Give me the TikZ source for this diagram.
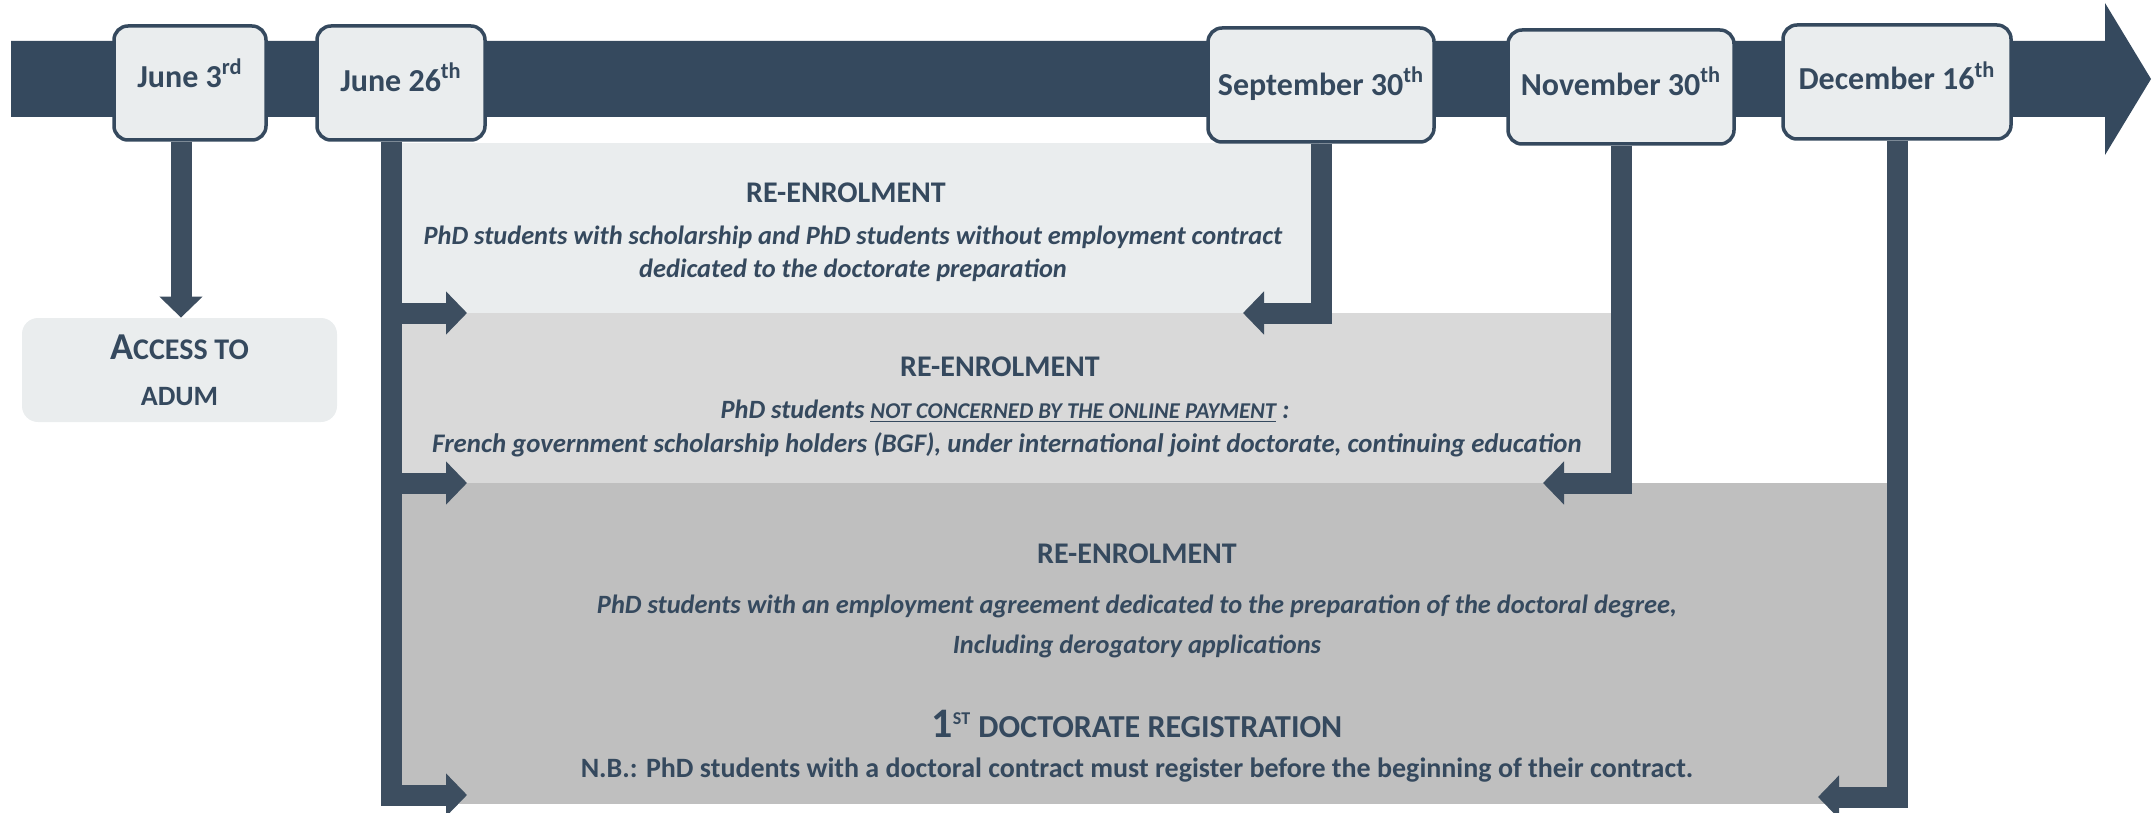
\documentclass[tikz,border=0pt]{standalone}
\usepackage{fontspec}
\setmainfont{Carlito}
\usetikzlibrary{arrows.meta}
\definecolor{navy}{RGB}{53,73,94}
\definecolor{stem}{RGB}{61,78,96}
\definecolor{pale}{RGB}{234,237,238}
\definecolor{midgray}{RGB}{217,217,217}
\definecolor{darkgray}{RGB}{191,191,191}
\tikzset{
	every node/.style={anchor=base},
	datebox/.style={
		rectangle, rounded corners=7pt,
		draw=navy, line width=1.75pt,
		fill=pale, text=navy,
		font=\fontsize{16}{19}\selectfont\bfseries,
		text height=10.3pt, text depth=0pt,
		anchor=center, minimum height=57pt
	},
	phasebox/.style={
		rectangle, inner sep=0, anchor=center
	},
	headtext/.style={
		text=navy, font=\fontsize{15}{18}\selectfont\bfseries
	},
	desctext/.style={
		text=navy, font=\fontsize{13.2}{16}\selectfont\bfseries\itshape
	},
	notetext/.style={
		text=navy, font=\fontsize{14}{16}\selectfont\bfseries
	},
	regtext/.style={
		text=navy, font=\fontsize{16}{19}\selectfont\bfseries
	},
	elbow/.style={
		stem, line width=10.5pt,
		-{Triangle[length=10.5pt, width=21pt]}
	},
}

\begin{document}
\begin{tikzpicture}[x=0.5pt, y=-0.5pt]
	\useasboundingbox (0,0) rectangle (2152,813);
	% time line
	\fill[navy] (11,41) -- (2105,41) -- (2105,3) -- (2151,79) -- (2105,155) -- (2105,117) -- (11,117) -- cycle;
	
	% the three periods
	\node (phase1) [phasebox, fill=pale, minimum width=464pt, minimum height=85pt] at (855,228) {};
	\node (phase2) [phasebox, fill=midgray, minimum width=613.5pt, minimum height=85pt] at (1004.5,398) {};
	\node (phase3) [phasebox, fill=darkgray, minimum width=751pt, minimum height=160.5pt] at (1142,643.5) {};
	
	% dates
	\node (jun3) [datebox, minimum width=76pt, text depth=6pt] at (190,83) {June 3\textsuperscript{rd}};
	\node (jun26) [datebox, minimum width=84pt, text depth=2pt] at (401,83) {June 26\textsuperscript{th}};
	\node (sep30) [datebox, minimum width=113pt] at (1321,85) {September 30\textsuperscript{th}};
	\node (nov30) [datebox, minimum width=113pt, text depth=2pt] at (1621,87) {November 30\textsuperscript{th}};
	\node (dec16) [datebox, minimum width=114pt, text depth=2.5pt] at (1897,82) {December 16\textsuperscript{th}};
	
	\node (access) [rectangle, rounded corners=8pt, fill=pale, text=navy, anchor=center, minimum width=157.5pt, minimum height=52pt, align=center, font=\bfseries\fontsize{14}{23}\selectfont] at (179.5,370) {{\fontsize{19}{23}\selectfont A}{\fontsize{15}{23}\selectfont CCESS TO}\\ADUM};
	
	\coordinate (stem3) at ([xshift=-4.5pt]jun3.south);
	\coordinate (stem26) at ([xshift=-5pt]jun26.south);
	\coordinate (in1) at (467,313);
	\coordinate (in2) at (467,483);
	\coordinate (in3) at (467,795);
	\coordinate (out1) at (1243,313);
	\coordinate (out2) at (1543,483);
	\coordinate (out3) at (1818,797);
	
	\draw[elbow] (stem3) -- (stem3 |- access.north);
	\draw[elbow] (stem26) |- (in3);
	\draw[elbow] (stem26 |- in1) -- (in1);
	\draw[elbow] (stem26 |- in2) -- (in2);
	\draw[elbow] (sep30.south) |- (out1);
	\draw[elbow] (nov30.south) |- (out2);
	\draw[elbow] (dec16.south) |- (out3);
	
	\node (p1head) [headtext] at (846,202) {RE-ENROLMENT};
	\node (p1desc) [desctext] at (853,244) {PhD students with scholarship and PhD students without employment contract};
	\node (p1more) [desctext] at (853,277) {dedicated to the doctorate preparation};
	
	\node (p2head) [headtext] at (1000,376) {RE-ENROLMENT};
	\node (p2desc) [desctext] at (1005,418) {PhD students \underline{\fontsize{11.3}{13}\selectfont NOT CONCERNED BY THE ONLINE PAYMENT} :};
	\node (p2more) [desctext, font=\fontsize{13.4}{16}\selectfont\bfseries\itshape] at (1007,452) {French government scholarship holders (BGF), under international joint doctorate, continuing education};
	
	\node (p3head) [headtext] at (1137,563) {RE-ENROLMENT};
	\node (p3desc) [desctext] at (1137,613) {PhD students with an employment agreement dedicated to the preparation of the doctoral degree,};
	\node (p3more) [desctext] at (1137,653) {Including derogatory applications};
	\node (p3reg) [regtext] at (1137,737) {{\fontsize{21}{24}\selectfont 1}\textsuperscript{\fontsize{9}{10}\selectfont ST} DOCTORATE REGISTRATION};
	\node (p3note) [notetext] at (1137,777) {N.B.: PhD students with a doctoral contract must register before the beginning of their contract.};
\end{tikzpicture}
\end{document}
